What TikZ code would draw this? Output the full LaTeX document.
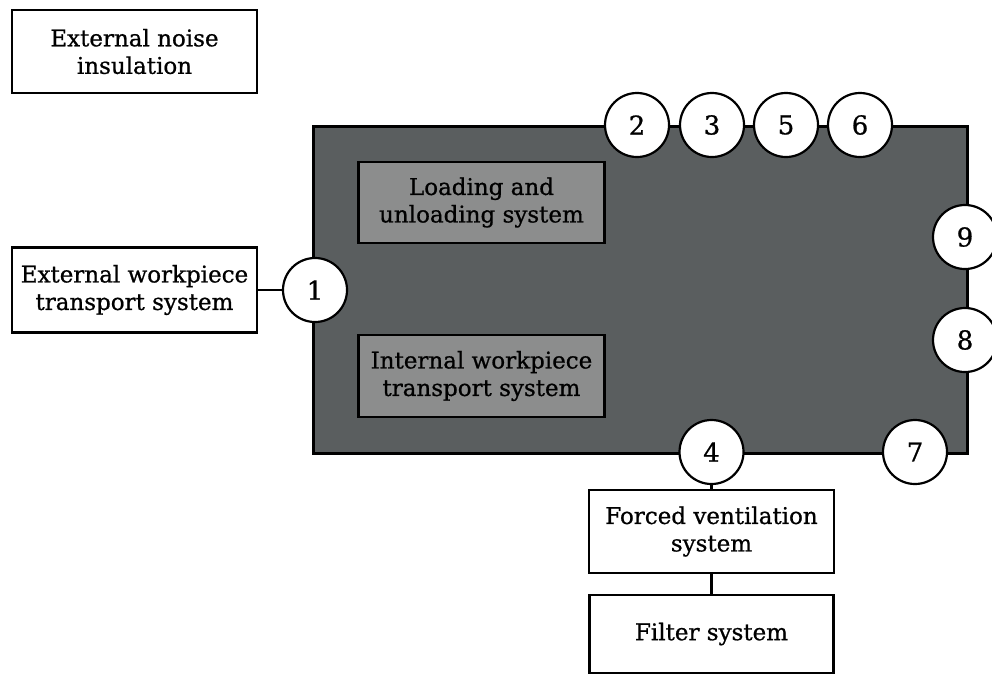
\documentclass[tikz,border=0pt]{standalone}
\usepackage{fontspec}
\setmainfont{DejaVu Serif}[FakeBold=0.8]
\definecolor{machine}{RGB}{90,94,95}
\definecolor{inner}{RGB}{140,141,141}
\begin{document}
\begin{tikzpicture}[x=1pt,y=-1pt,
  every node/.style={font=\fontsize{23}{27.5}\selectfont, align=center, inner sep=0pt},
  whitebox/.style={draw=black, line width=2.6pt, fill=white},
  innerbox/.style={draw=black, line width=2.6pt, fill=inner, text=black},
  port/.style={circle, draw=black, line width=2.2pt, fill=white, minimum size=64pt, font=\fontsize{26}{30}\selectfont},
  link/.style={draw=black, line width=2.4pt}]
\useasboundingbox (0,0) rectangle (992,675);
\fill[white] (0,0) rectangle (992,675);
% machine
\node[draw=black, line width=2.6pt, fill=machine, minimum width=654pt, minimum height=327pt, anchor=north west] (machine) at (312,125) {};
% inner boxes
\node[innerbox, minimum width=246pt, minimum height=81pt] (load) at (481.5,202.5) {Loading and\\unloading system};
\node[innerbox, minimum width=246pt, minimum height=82pt] (itrans) at (481.5,376) {Internal workpiece\\transport system};
% outside boxes
\node[whitebox, minimum width=245pt, minimum height=83pt] (noise) at (134.5,51.5) {External noise\\insulation};
\node[whitebox, minimum width=245pt, minimum height=85pt] (etrans) at (134.5,290) {External workpiece\\transport system};
\node[whitebox, minimum width=245pt, minimum height=83pt] (vent) at (711.5,531.5) {Forced ventilation\\system};
\node[whitebox, minimum width=244pt, minimum height=78pt] (filter) at (711.5,634) {Filter system};
% ports
\node[port] (p1) at (315,290) {1};
\node[port] (p2) at (637,125) {2};
\node[port] (p3) at (712,125) {3};
\node[port] (p5) at (786,125) {5};
\node[port] (p6) at (860,125) {6};
\node[port] (p9) at (965,237) {9};
\node[port] (p8) at (965,340) {8};
\node[port] (p4) at (711.5,452) {4};
\node[port] (p7) at (915,452) {7};
% connectors
\draw[link] (etrans.east) -- (p1.west);
\draw[link] (p4.south) -- (vent.north);
\draw[link] (vent.south) -- (filter.north);
\end{tikzpicture}
\end{document}
